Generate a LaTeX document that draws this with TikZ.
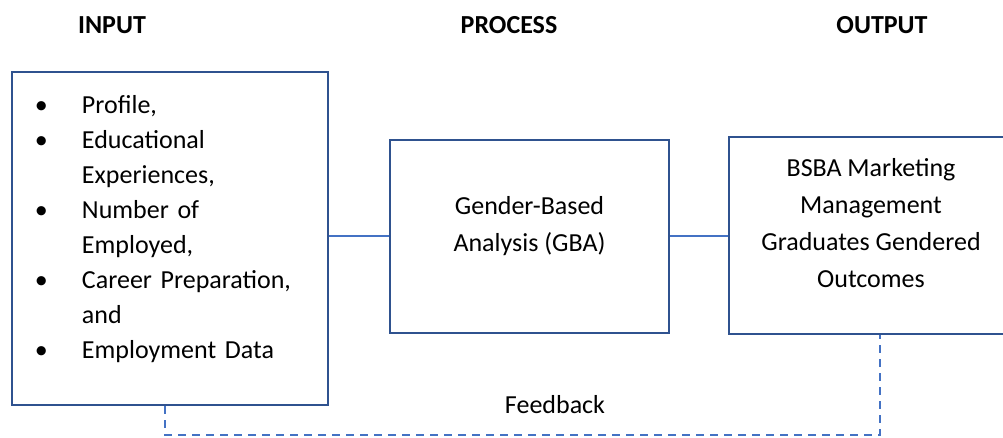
\documentclass[tikz,border=0pt]{standalone}
\usepackage{fontspec}
\setmainfont{Carlito}
\usetikzlibrary{positioning,calc}
\definecolor{boxblue}{HTML}{2F528F}
\definecolor{linkblue}{HTML}{4472C4}
\newcommand{\bul}{\makebox[70pt][l]{\hspace{23pt}\textbullet}}
\newcommand{\cont}{\hspace*{70pt}}

\begin{document}
\begin{tikzpicture}[x=1pt,y=1pt,every node/.style={font=\fontsize{26}{37}\selectfont},
 box/.style={draw=boxblue,line width=2.2pt,align=center,inner sep=0pt},
 link/.style={draw=linkblue,line width=2pt},
 fb/.style={link,dash pattern=on 8pt off 6pt},
 head/.style={font=\fontsize{26}{37}\selectfont\bfseries}]
\useasboundingbox (0,0) rectangle (1003,438);
\node[head](hin) at (112,413){INPUT};
\node[head](hproc) at (509,413){PROCESS};
\node[head](hout) at (882,413){OUTPUT};
\node[box,text width=316pt,minimum height=333pt,align=left,font=\fontsize{26}{35}\selectfont](input) at (170,199.5)
 {\bul Profile,\\ \bul Educational\\ \cont Experiences,\\ \bul Number of\\ \cont Employed,\\
  \bul Career Preparation,\\ \cont and\\ \bul Employment Data\\[-11pt]~};
\node[box,minimum width=279pt,minimum height=193pt](process) at (529.5,201.5){Gender-Based\\Analysis (GBA)\\[-11pt]~};
\node[box,minimum width=284pt,minimum height=197pt](output) at (871,202.5){BSBA Marketing\\Management\\Graduates Gendered\\Outcomes\\[-11pt]~};
\coordinate (fbl) at (165,3); \coordinate (fbr) at (880,3);
\node(fbtext) at (555,33){Feedback};
\draw[link](process.west)--(process.west -| input.east);\draw[link](process.east)--(process.east -| output.west);
\draw[fb](fbl |- input.south)--(fbl)--(fbr)--(fbr |- output.south);
\end{tikzpicture}
\end{document}
